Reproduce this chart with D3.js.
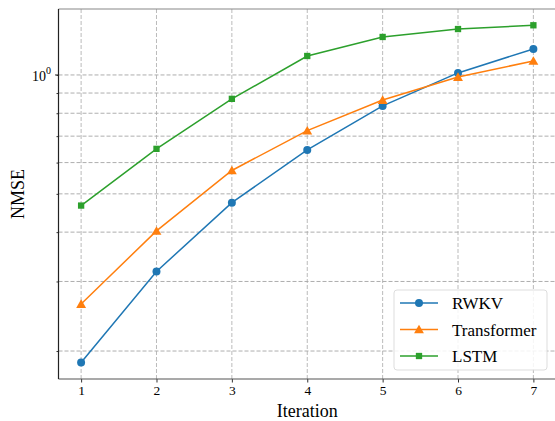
<!DOCTYPE html>
<html>
<head>
<meta charset="utf-8">
<script src="https://cdn.jsdelivr.net/npm/d3@7"></script>
<style>
  body { margin: 0; background: #fff; }
</style>
</head>
<body>
<div id="chart"></div>
<script>
// values
const iterations = [1, 2, 3, 4, 5, 6, 7];
const rwkv = [0.187, 0.318, 0.475, 0.646, 0.835, 1.012, 1.164];
const transformer = [0.263, 0.403, 0.573, 0.723, 0.864, 0.988, 1.085];
const lstm = [0.467, 0.650, 0.870, 1.117, 1.248, 1.307, 1.336];
const seriesNames = ["RWKV", "Transformer", "LSTM"];
const seriesColors = ["#1f77b4", "#ff7f0e", "#2ca02c"];
const gridValues = [0.2, 0.3, 0.4, 0.5, 0.6, 0.7, 0.8, 0.9, 1.0];

const W = 555, H = 421;
const margin = { top: 9, right: -1, bottom: 42, left: 58.5 };
const serif = "Liberation Serif";

const svg = d3.select("#chart").append("svg")
  .attr("width", W)
  .attr("height", H)
  .attr("font-family", serif);

const x = d3.scaleLinear()
  .domain([0.7, 7.3])
  .range([margin.left, W - margin.right]);

const y = d3.scaleLog()
  .domain([0.1699, 1.469])
  .range([H - margin.bottom, margin.top]);

// grid
svg.append("g")
  .selectAll("line")
  .data(gridValues)
  .join("line")
    .attr("x1", margin.left).attr("x2", W - margin.right)
    .attr("y1", d => y(d)).attr("y2", d => y(d))
    .attr("stroke", "#999").attr("stroke-width", 0.8)
    .attr("stroke-dasharray", "4,2");

svg.append("g")
  .selectAll("line")
  .data(iterations)
  .join("line")
    .attr("x1", d => x(d)).attr("x2", d => x(d))
    .attr("y1", margin.top).attr("y2", H - margin.bottom)
    .attr("stroke", "#aaa").attr("stroke-width", 0.8)
    .attr("stroke-dasharray", "4,2");

// x axis
const xAxis = svg.append("g")
  .attr("transform", `translate(0,${H - margin.bottom})`)
  .call(d3.axisBottom(x).tickValues(iterations).tickFormat(d3.format("d")).tickSize(3.5).tickPadding(3));
xAxis.attr("font-family", serif).attr("font-size", 13.5);
xAxis.select(".domain").remove();
xAxis.selectAll("text").attr("fill", "#000");
xAxis.selectAll("line").attr("stroke", "#333");

// y axis: major tick at 1, minor ticks at the rest
const yAxis = svg.append("g")
  .attr("transform", `translate(${margin.left},0)`)
  .call(d3.axisLeft(y).tickValues(gridValues).tickSize(2).tickFormat(""));
yAxis.select(".domain").remove();
yAxis.selectAll("line").attr("stroke", "#333");

svg.append("line")
  .attr("x1", margin.left - 3.5).attr("x2", margin.left)
  .attr("y1", y(1)).attr("y2", y(1))
  .attr("stroke", "#333");

const major = svg.append("text")
  .attr("x", margin.left - 7.5)
  .attr("y", y(1) + 6.5)
  .attr("text-anchor", "end")
  .attr("font-size", 14);
major.append("tspan").text("10");
major.append("tspan").attr("dy", -7).attr("font-size", 10).text("0");

// frame
svg.append("line")
  .attr("x1", margin.left).attr("x2", W)
  .attr("y1", margin.top).attr("y2", margin.top)
  .attr("stroke", "#888").attr("stroke-width", 1.2);
svg.append("line")
  .attr("x1", margin.left).attr("x2", W)
  .attr("y1", H - margin.bottom).attr("y2", H - margin.bottom)
  .attr("stroke", "#555").attr("stroke-width", 1.2);
svg.append("line")
  .attr("x1", margin.left).attr("x2", margin.left)
  .attr("y1", margin.top).attr("y2", H - margin.bottom)
  .attr("stroke", "#222").attr("stroke-width", 1.2);

// axis labels
svg.append("text")
  .attr("x", x(4))
  .attr("y", 417)
  .attr("text-anchor", "middle")
  .attr("font-size", 18)
  .text("Iteration");

svg.append("text")
  .attr("transform", `translate(24,${(margin.top + H - margin.bottom) / 2}) rotate(-90)`)
  .attr("text-anchor", "middle")
  .attr("font-size", 18)
  .text("NMSE");

// markers
const symbols = [d3.symbolCircle, d3.symbolTriangle, d3.symbolSquare];
const symbolSizes = [50, 42, 40];

function marker(g, i, cx, cy) {
  g.append("path")
    .attr("d", d3.symbol(symbols[i], symbolSizes[i])())
    .attr("transform", `translate(${cx},${cy + (i === 1 ? 1 : 0)})`)
    .attr("fill", seriesColors[i]);
}

const allSeries = [rwkv, transformer, lstm];
const line = d3.line()
  .x((d, i) => x(iterations[i]))
  .y(d => y(d));

allSeries.forEach((vals, i) => {
  svg.append("path")
    .datum(vals)
    .attr("d", line)
    .attr("fill", "none")
    .attr("stroke", seriesColors[i])
    .attr("stroke-width", 1.5);
  const g = svg.append("g");
  vals.forEach((v, j) => marker(g, i, x(iterations[j]), y(v)));
});

// legend
const legend = svg.append("g");
legend.append("rect")
  .attr("x", 394).attr("y", 290)
  .attr("width", 153).attr("height", 80)
  .attr("rx", 3)
  .attr("fill", "#fff").attr("fill-opacity", 0.85)
  .attr("stroke", "#ddd");

seriesNames.forEach((name, i) => {
  const ly = 303 + i * 26.5;
  legend.append("line")
    .attr("x1", 400).attr("x2", 438)
    .attr("y1", ly).attr("y2", ly)
    .attr("stroke", seriesColors[i]).attr("stroke-width", 1.5);
  marker(legend, i, 419, ly);
  legend.append("text")
    .attr("x", 452).attr("y", ly + 6)
    .attr("font-size", 17)
    .text(name);
});
</script>
</body>
</html>
